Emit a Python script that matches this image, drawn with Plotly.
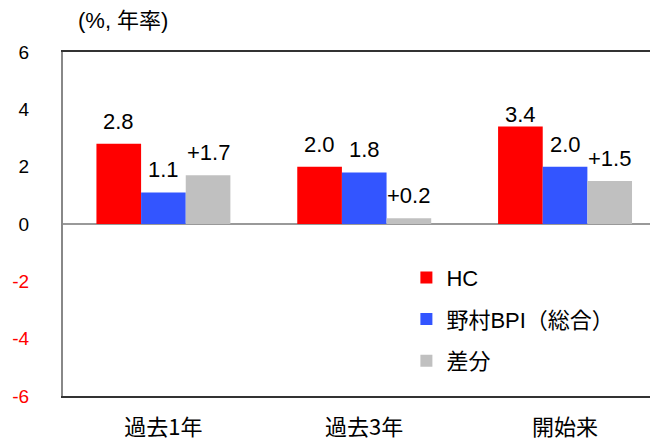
import plotly.graph_objects as go

categories = ["過去1年", "過去3年", "開始来"]
hc = [2.8, 2.0, 3.4]
bpi = [1.1, 1.8, 2.0]
diff = [1.7, 0.2, 1.5]
series_names = ["HC", "野村BPI（総合）", "差分"]
colors = ["#FF0000", "#3355FF", "#C0C0C0"]
y_ticks = [-6, -4, -2, 0, 2, 4, 6]

FONT = "Liberation Sans, Noto Sans CJK JP, sans-serif"
xpos = list(range(len(categories)))
bargap = 0.333
bw = (1 - bargap) / 3

# label placement tweak (series index, category index) -> yshift
label_shift_override = {(0, 2): -2}

fig = go.Figure()
all_series = [hc, bpi, diff]
for i, (name, vals, col) in enumerate(zip(series_names, all_series, colors)):
    fig.add_trace(go.Bar(
        x=xpos, y=vals, name=name, marker=dict(color=col, line=dict(width=0)),
        legendgroup=f"g{i}",
    ))

annotations = []
for i, vals in enumerate(all_series):
    off = (i - 1) * bw
    for j, (xi, v) in enumerate(zip(xpos, vals)):
        txt = (f"+{v:.1f}" if i == 2 else f"{v:.1f}")
        annotations.append(dict(
            x=xi + off, y=v, xref="x", yref="y", text=txt, showarrow=False,
            yanchor="bottom", yshift=label_shift_override.get((i, j), 8),
            font=dict(size=22, color="#000", family=FONT),
        ))

annotations.append(dict(
    x=0.022, y=1.0, xref="paper", yref="paper", xanchor="left", yanchor="bottom",
    yshift=17, text="(%, 年率)", showarrow=False,
    font=dict(size=22, color="#000", family=FONT),
))

tick_text = [(f'<span style="color:#FF0000">{t}</span>' if t < 0 else str(t)) for t in y_ticks]

fig.update_layout(
    width=650, height=441,
    margin=dict(l=63, r=0, t=52, b=45),
    paper_bgcolor="white", plot_bgcolor="white",
    barmode="group", bargap=bargap, bargroupgap=0,
    font=dict(family=FONT, color="#000"),
    showlegend=True,
    legend=dict(
        x=0.585, y=0.405, xanchor="left", yanchor="top",
        font=dict(size=22, family=FONT, color="#000"),
        bgcolor="rgba(0,0,0,0)", tracegroupgap=10,
        itemwidth=30,
    ),
    annotations=annotations,
)
fig.update_xaxes(
    range=[-0.5, 2.423], tickvals=xpos, ticktext=categories,
    showline=True, linecolor="#333", linewidth=2, mirror=True,
    ticks="", showgrid=False, zeroline=False,
    tickfont=dict(size=22, family="Noto Sans CJK JP", color="#000"),
    ticklabelstandoff=11,
)
fig.update_yaxes(
    range=[-6, 6], tickvals=y_ticks, ticktext=tick_text,
    showline=True, linecolor="#888", linewidth=2,
    showgrid=False, zeroline=True, zerolinecolor="#999", zerolinewidth=2,
    ticks="", tickfont=dict(size=19, family=FONT, color="#000"),
    ticklabelstandoff=28,
)

fig.write_html("out.html", config={"displayModeBar": False},
               post_script="document.body.style.margin='0';")
